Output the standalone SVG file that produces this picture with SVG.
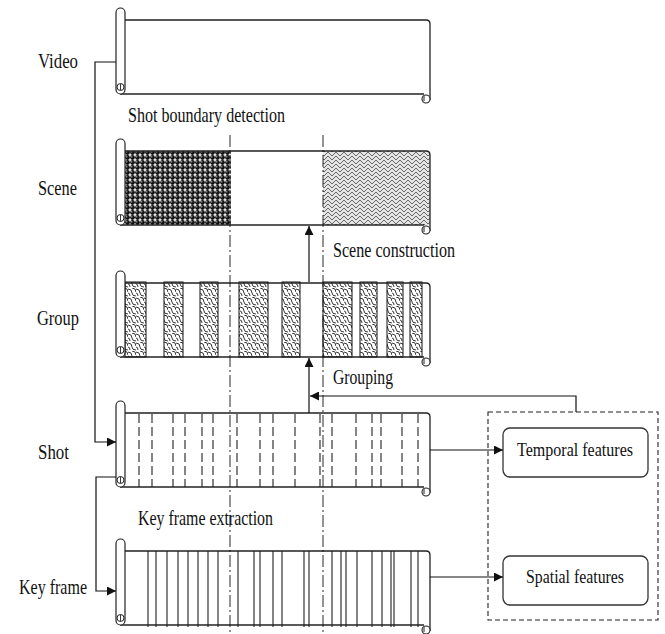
<svg xmlns="http://www.w3.org/2000/svg" width="665" height="634" viewBox="0 0 665 634">
<style>
.lbl{font-family:"Liberation Serif","Times New Roman",serif;font-size:21px;fill:#111}
.fl{font-family:"Liberation Serif","Times New Roman",serif;font-size:19px;fill:#111}
.ol{fill:none;stroke:#222;stroke-width:1.3}
.roll{fill:#fff;stroke:#222;stroke-width:1.2}
.con{fill:none;stroke:#111;stroke-width:1.2}
.dd{fill:none;stroke:#111;stroke-width:0.9;stroke-dasharray:12 3 2 3}
.sd{stroke:#222;stroke-width:1.1;stroke-dasharray:9 4}
.kf{stroke:#222;stroke-width:1.1}
.band{fill:url(#weave);stroke:#111;stroke-width:1}
.feat{fill:#fff;stroke:#333;stroke-width:1.3}
</style>
<defs>
<marker id="ah" viewBox="0 0 10 10" refX="10" refY="5" markerWidth="9" markerHeight="9" markerUnits="userSpaceOnUse" orient="auto">
<path d="M0,0 L10,5 L0,10 z" fill="#111"/>
</marker>
<pattern id="dots" width="5" height="5" patternUnits="userSpaceOnUse">
<rect width="5" height="5" fill="#fff"/>
<circle cx="2.5" cy="2.5" r="2.4" fill="#111"/>
<circle cx="1.8" cy="1.8" r="0.6" fill="#fff"/>
</pattern>
<pattern id="grey" width="8" height="8" patternUnits="userSpaceOnUse">
<rect width="8" height="8" fill="#e4e4e4"/>
<path d="M0,0 l4,4 M4,4 l4,-4 M0,4 l4,4 M4,8 l4,-4" fill="none" stroke="#666" stroke-width="1"/>
</pattern>
<pattern id="weave" width="8" height="9" patternUnits="userSpaceOnUse">
<rect width="8" height="9" fill="#fff"/>
<path d="M0,1 q4,0 4,4 q0,3 4,3 M4,0 q4,0 4,4 M0,5 q2,0 2,3" fill="none" stroke="#222" stroke-width="0.9"/>
</pattern>
<g id="scroll">
<path class="ol" d="M125,0 H426 Q430,0 430,4 V80"/>
<path class="ol" d="M120,74 H424"/>
<circle cx="426" cy="79" r="4" fill="#fff" stroke="#222" stroke-width="1.1"/>
<path d="M424,76 v5" stroke="#222" stroke-width="1"/>
<rect class="roll" x="116" y="-12" width="9" height="86" rx="4.5"/>
<circle cx="120.5" cy="67" r="3.5" fill="#fff" stroke="#222" stroke-width="1"/>
<path d="M120.5,64 v6" stroke="#222" stroke-width="0.9"/>
</g>
</defs>
<rect width="665" height="634" fill="#fff"/>

<g id="video">
<use href="#scroll" y="20"/>
<text class="lbl" x="38" y="68" textLength="40" lengthAdjust="spacingAndGlyphs">Video</text>
</g>

<g id="scene">
<rect x="125" y="151" width="106" height="74" fill="url(#dots)"/>
<rect x="323" y="151" width="107" height="74" fill="url(#grey)"/>
<use href="#scroll" y="151"/>
<text class="lbl" x="38" y="195" textLength="39" lengthAdjust="spacingAndGlyphs">Scene</text>
</g>

<g id="group">
<rect class="band" x="125" y="282" width="21" height="75"/>
<rect class="band" x="164" y="282" width="19" height="75"/>
<rect class="band" x="200" y="282" width="18" height="75"/>
<rect class="band" x="239" y="282" width="29" height="75"/>
<rect class="band" x="282" y="282" width="18" height="75"/>
<rect class="band" x="323" y="282" width="29" height="75"/>
<rect class="band" x="360" y="282" width="17" height="75"/>
<rect class="band" x="387" y="282" width="16" height="75"/>
<rect class="band" x="410" y="282" width="12" height="75"/>
<use href="#scroll" y="283"/>
<text class="lbl" x="37" y="325" textLength="42" lengthAdjust="spacingAndGlyphs">Group</text>
</g>

<g id="shot">
<g class="sd">
<path d="M139,414V487M152,414V487M173,414V487M185,414V487M202,414V487M213,414V487M237,414V487M260,414V487M273,414V487M295,414V487M320,414V487M332,414V487M356,414V487M372,414V487M381,414V487M402,414V487M418,414V487"/>
</g>
<use href="#scroll" y="413"/>
<text class="lbl" x="38" y="459" textLength="31" lengthAdjust="spacingAndGlyphs">Shot</text>
</g>

<g id="keyframe">
<g class="kf">
<path d="M148,551V627M156,551V627M167,551V627M178,551V627M188,551V627M198,551V627M208,551V627M218,551V627M238,551V627M254,551V627M260,551V627M273,551V627M282,551V627M304,551V627M309,551V627M332,551V627M341,551V627M346,551V627M357,551V627M372,551V627M382,551V627M391,551V627M394,551V627M411,551V627M418,551V627"/>
</g>
<use href="#scroll" y="551"/>
<text class="lbl" x="19" y="594" textLength="68" lengthAdjust="spacingAndGlyphs">Key frame</text>
</g>

<g id="features-box">
<rect x="488" y="412" width="170" height="208" fill="none" stroke="#222" stroke-width="1.1" stroke-dasharray="5 3"/>
</g>
<g id="temporal">
<rect class="feat" x="503" y="428" width="145" height="49" rx="7"/>
<text class="fl" x="517" y="456" textLength="116" lengthAdjust="spacingAndGlyphs">Temporal features</text>
</g>
<g id="spatial">
<rect class="feat" x="503" y="556" width="145" height="49" rx="7"/>
<text class="fl" x="526" y="583" textLength="98" lengthAdjust="spacingAndGlyphs">Spatial features</text>
</g>

<g id="dashdot">
<path class="dd" d="M230,135V634M323,135V634"/>
</g>

<g id="connectors">
<path class="con" d="M116,62H95V442H116" marker-end="url(#ah)"/>
<path class="con" d="M116,477H96V591H116" marker-end="url(#ah)"/>
<path class="con" d="M309,282V226" marker-end="url(#ah)"/>
<path class="con" d="M309,413V358" marker-end="url(#ah)"/>
<path class="con" d="M576,412V396H310" marker-end="url(#ah)"/>
<path class="con" d="M430,450H503" marker-end="url(#ah)"/>
<path class="con" d="M430,577H503" marker-end="url(#ah)"/>
</g>

<g id="step-labels">
<text class="lbl" x="128" y="122" textLength="157" lengthAdjust="spacingAndGlyphs">Shot boundary detection</text>
<text class="lbl" x="333" y="257" textLength="122" lengthAdjust="spacingAndGlyphs">Scene construction</text>
<text class="lbl" x="333" y="384" textLength="60" lengthAdjust="spacingAndGlyphs">Grouping</text>
<text class="lbl" x="138" y="525" textLength="135" lengthAdjust="spacingAndGlyphs">Key frame extraction</text>
</g>
</svg>
